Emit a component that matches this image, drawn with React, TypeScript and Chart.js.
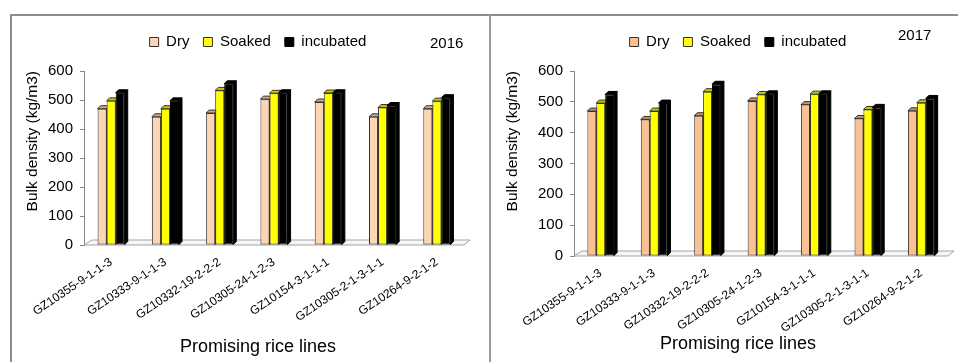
import { useEffect, useRef } from 'react';
import { Chart, registerables } from 'chart.js';

Chart.register(...registerables);

// Promising rice lines on the category axis
const CATEGORIES = [
  'GZ10355-9-1-1-3',
  'GZ10333-9-1-1-3',
  'GZ10332-19-2-2-2',
  'GZ10305-24-1-2-3',
  'GZ10154-3-1-1-1',
  'GZ10305-2-1-3-1-1',
  'GZ10264-9-2-1-2',
];

const SERIES_NAMES = ['Dry', 'Soaked', 'incubated'];

// Bulk density (kg/m3), season 2016
const DRY_2016 = [470, 442, 455, 503, 493, 442, 470];
const SOAKED_2016 = [497, 470, 533, 523, 524, 474, 496];
const INCUBATED_2016 = [525, 497, 556, 525, 525, 481, 508];

// Bulk density (kg/m3), season 2017
const DRY_2017 = [470, 443, 455, 503, 491, 446, 471];
const SOAKED_2017 = [496, 470, 533, 524, 525, 475, 497];
const INCUBATED_2017 = [524, 496, 557, 526, 526, 482, 511];

const Y_MIN = 0;
const Y_MAX = 600;
const Y_STEP = 100;

const YEARS = ['2016', '2017'];

const AXIS_TITLE_Y = 'Bulk density (kg/m3)';
const AXIS_TITLE_X = 'Promising rice lines';

const FONT = "'Liberation Sans', Arial, Helvetica, sans-serif";

interface PanelLayout {
  width: number;
  padRight: number;
  yWidth: number;
  rightWidth: number;
  xHeight: number;
  titlePadBottom: number;
  yearX: number;
  yearY: number;
  dryFill: string;
  dryCap: string;
  drySide: string;
}

// Draws the grey 3-D floor and the top/side faces of every column.
const barDepthPlugin = {
  id: 'barDepth',
  beforeDatasetsDraw(chart: any, _args: any, opts: any) {
    const { ctx, chartArea } = chart;
    const yScale = chart.scales.y;
    const y0 = yScale.getPixelForValue(0);
    const d = opts.depth ?? 3;

    ctx.save();
    // floor
    ctx.beginPath();
    ctx.moveTo(chartArea.left, y0);
    ctx.lineTo(chartArea.right, y0);
    ctx.lineTo(chartArea.right + 6, y0 - 5);
    ctx.lineTo(chartArea.left + 8, y0 - 5);
    ctx.closePath();
    ctx.fillStyle = '#f6f6f6';
    ctx.fill();
    ctx.strokeStyle = '#a3a3a3';
    ctx.lineWidth = 1;
    ctx.stroke();

    chart.data.datasets.forEach((ds: any, di: number) => {
      const meta = chart.getDatasetMeta(di);
      const [cap, side] = opts.faces[di];
      meta.data.forEach((bar: any) => {
        const { x, y, base, width } = bar.getProps(['x', 'y', 'base', 'width'], true);
        const l = x - width / 2;
        const r = x + width / 2;
        ctx.lineWidth = 1;
        ctx.strokeStyle = ds.borderColor;
        // right side face
        ctx.beginPath();
        ctx.moveTo(r, y);
        ctx.lineTo(r + d, y - d);
        ctx.lineTo(r + d, base - d);
        ctx.lineTo(r, base);
        ctx.closePath();
        ctx.fillStyle = side;
        ctx.fill();
        ctx.stroke();
        // top cap
        ctx.beginPath();
        ctx.moveTo(l, y);
        ctx.lineTo(l + d, y - d);
        ctx.lineTo(r + d, y - d);
        ctx.lineTo(r, y);
        ctx.closePath();
        ctx.fillStyle = cap;
        ctx.fill();
        ctx.stroke();
      });
    });
    ctx.restore();
  },
};

// Season label in the upper right corner.
const yearLabelPlugin = {
  id: 'yearLabel',
  afterDraw(chart: any, _args: any, opts: any) {
    const { ctx } = chart;
    ctx.save();
    ctx.font = `15px ${FONT}`;
    ctx.fillStyle = '#000';
    ctx.textAlign = 'left';
    ctx.textBaseline = 'middle';
    ctx.fillText(opts.text, opts.x, opts.y);
    ctx.restore();
  },
};

function BulkDensityPanel(props: {
  year: string;
  dry: number[];
  soaked: number[];
  incubated: number[];
  layout: PanelLayout;
  height: number;
}) {
  const { year, dry, soaked, incubated, layout, height } = props;
  const canvasRef = useRef<HTMLCanvasElement>(null);

  useEffect(() => {
    const canvas = canvasRef.current;
    if (!canvas) return;
    const chart = new Chart(canvas, {
      type: 'bar',
      data: {
        labels: CATEGORIES,
        datasets: [
          {
            label: SERIES_NAMES[0],
            data: dry,
            backgroundColor: layout.dryFill,
            borderColor: '#3a3030',
          },
          {
            label: SERIES_NAMES[1],
            data: soaked,
            backgroundColor: '#ffff00',
            borderColor: '#333333',
          },
          {
            label: SERIES_NAMES[2],
            data: incubated,
            backgroundColor: '#000000',
            borderColor: '#000000',
          },
        ].map((ds) => ({
          ...ds,
          borderWidth: 1,
          borderSkipped: false,
          categoryPercentage: 0.5,
          barPercentage: 1,
          yAxisID: 'y',
        })),
      },
      options: {
        responsive: false,
        animation: false,
        devicePixelRatio: 1,
        layout: { padding: { top: 5.5, left: 0, right: layout.padRight, bottom: 0 } },
        scales: {
          x: {
            grid: { display: false },
            border: { display: false },
            ticks: {
              autoSkip: false,
              minRotation: 34,
              maxRotation: 34,
              padding: 2,
              color: '#000',
              font: { family: FONT, size: 12 },
            },
            afterFit: (s: any) => {
              s.height = layout.xHeight;
            },
          },
          y: {
            min: Y_MIN,
            max: Y_MAX,
            ticks: {
              stepSize: Y_STEP,
              padding: 7,
              color: '#000',
              font: { family: FONT, size: 15 },
            },
            grid: {
              display: true,
              drawOnChartArea: false,
              drawTicks: true,
              tickLength: 4,
              color: '#868686',
            },
            border: { display: true, color: '#868686' },
            title: {
              display: true,
              text: AXIS_TITLE_Y,
              align: 'end',
              color: '#000',
              font: { family: FONT, size: 15.5 },
              padding: { top: 13, bottom: 0 },
            },
            afterFit: (s: any) => {
              s.width = layout.yWidth;
            },
          },
          yR: {
            type: 'linear',
            position: 'right',
            display: true,
            grid: { display: false },
            border: { display: false },
            ticks: { display: false },
            afterFit: (s: any) => {
              s.width = layout.rightWidth;
            },
          },
        },
        plugins: {
          legend: {
            position: 'top',
            labels: {
              boxWidth: 9,
              boxHeight: 9,
              padding: 14,
              color: '#000',
              font: { family: FONT, size: 15 },
            },
          },
          subtitle: {
            display: true,
            text: '',
            weight: 500,
            font: { size: 10, lineHeight: 1 },
            padding: { top: 1.5, bottom: 0 },
          },
          title: {
            display: true,
            position: 'bottom',
            text: AXIS_TITLE_X,
            color: '#000',
            font: { family: FONT, size: 18, weight: 'normal' },
            padding: { top: 0, bottom: layout.titlePadBottom },
          },
          tooltip: { enabled: false },
          barDepth: {
            depth: 3,
            faces: [
              [layout.dryCap, layout.drySide],
              ['#c8c800', '#a8a800'],
              ['#000000', '#000000'],
            ],
          },
          yearLabel: { text: year, x: layout.yearX, y: layout.yearY },
        } as any,
      },
      plugins: [barDepthPlugin, yearLabelPlugin],
    } as any);
    return () => chart.destroy();
  }, [year, dry, soaked, incubated, layout, height]);

  return (
    <canvas
      ref={canvasRef}
      width={layout.width}
      height={height}
      style={{ display: 'block', width: layout.width, height }}
    />
  );
}

const LEFT_LAYOUT: PanelLayout = {
  width: 480,
  padRight: -16,
  yWidth: 74,
  rightWidth: 42,
  xHeight: 91.2,
  titlePadBottom: 4.2,
  yearX: 420,
  yearY: 29,
  dryFill: '#fcd5b4',
  dryCap: '#c9a88c',
  drySide: '#b8977c',
};

const RIGHT_LAYOUT: PanelLayout = {
  width: 468,
  padRight: -28,
  yWidth: 84,
  rightWidth: 38,
  xHeight: 77.2,
  titlePadBottom: 7.2,
  yearX: 408,
  yearY: 21,
  dryFill: '#fac090',
  dryCap: '#c39068',
  drySide: '#b0805a',
};

export default function App() {
  const panelTop = 15;
  const panelHeight = 347;
  return (
    <div
      style={{
        position: 'fixed',
        left: 0,
        top: 0,
        width: 958,
        height: 362,
        background: '#ffffff',
        overflow: 'hidden',
      }}
    >
      <div style={{ position: 'absolute', left: 10, top: panelTop }}>
        <BulkDensityPanel
          year={YEARS[0]}
          dry={DRY_2016}
          soaked={SOAKED_2016}
          incubated={INCUBATED_2016}
          layout={LEFT_LAYOUT}
          height={panelHeight}
        />
      </div>
      <div style={{ position: 'absolute', left: 490, top: panelTop }}>
        <BulkDensityPanel
          year={YEARS[1]}
          dry={DRY_2017}
          soaked={SOAKED_2017}
          incubated={INCUBATED_2017}
          layout={RIGHT_LAYOUT}
          height={panelHeight}
        />
      </div>
      {/* panel frame */}
      <div style={{ position: 'absolute', left: 10, top: 14, width: 948, height: 2, background: '#8c8c8c' }} />
      <div style={{ position: 'absolute', left: 10, top: 14, width: 2, height: 348, background: '#8c8c8c' }} />
      <div style={{ position: 'absolute', left: 489, top: 14, width: 2, height: 348, background: '#9a9a9a' }} />
    </div>
  );
}
